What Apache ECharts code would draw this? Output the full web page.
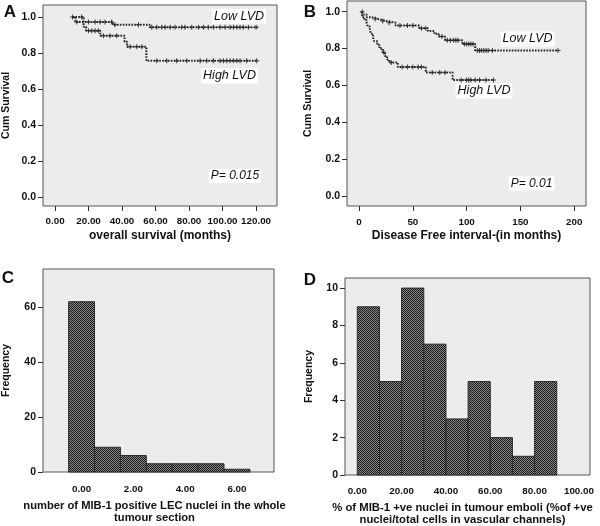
<!DOCTYPE html>
<html>
<head>
<meta charset="utf-8">
<script src="https://cdn.jsdelivr.net/npm/echarts@6/dist/echarts.min.js"></script>
<style>
  html, body { margin: 0; padding: 0; background: #ffffff; }
  #chart { width: 600px; height: 526px; }
</style>
</head>
<body>
<div id="chart"></div>
<script>
// A: overall survival, [months, survival after step]
var osLowSteps = [[10.4, 1.0], [12, 0.972], [34.5, 0.957], [56.5, 0.943], [121, 0.943]];
var osHighSteps = [[10.4, 1.0], [17, 0.946], [18.5, 0.924], [27, 0.896], [41.5, 0.863], [43, 0.835], [54.5, 0.757], [121, 0.757]];
var osLowCensor = [13, 19.9, 23.9, 26.9, 29.8, 33.8, 35.8, 49.8, 57.7, 60.7, 63.7, 65.7, 68.7, 71.6, 75.6, 77.6, 81.6, 85.6, 88.6, 91.5, 94.5, 98.5, 101.5, 104.5, 106.5, 108.5, 110.4, 112.4, 115.4, 120];
var osHighCensor = [10.4, 15.9, 19.9, 21.9, 23.9, 25.9, 28.8, 32.8, 36.8, 44.8, 48.8, 51.8, 60.7, 66.7, 72.6, 78.6, 86.6, 90.5, 94.5, 98.5, 100.5, 102.5, 104.5, 106.5, 108.5, 110.4, 114.4, 120.4];

// B: disease free interval
var dfLowSteps = [[2.5, 1.0], [4, 0.985], [7, 0.97], [12, 0.96], [18, 0.95], [25, 0.94], [34, 0.925], [56, 0.91], [64, 0.895], [70, 0.88], [74, 0.865], [80, 0.845], [96, 0.825], [108, 0.79], [185, 0.79]];
var dfHighSteps = [[2.5, 1.0], [3, 0.97], [5, 0.955], [7, 0.94], [8, 0.92], [10, 0.9], [11, 0.88], [13, 0.86], [14, 0.84], [17, 0.82], [19, 0.80], [22, 0.78], [24, 0.76], [26, 0.74], [28, 0.725], [36, 0.70], [62, 0.67], [87, 0.63], [125, 0.63]];
var dfLowCensor = [3, 15, 22, 28, 38, 45, 50, 58, 62, 77, 82, 85, 88, 90, 92, 98, 100, 102, 104, 106, 110, 112, 114, 116, 118, 120, 124, 185];
var dfHighCensor = [23, 30, 40, 45, 50, 55, 58, 68, 75, 80, 95, 100, 102, 104, 108, 112, 118, 125];

// C: histogram [bin start, bin end, frequency]
var lecBins = [[-0.5, 0.5, 62], [0.5, 1.5, 9], [1.5, 2.5, 6], [2.5, 3.5, 3], [3.5, 4.5, 3], [4.5, 5.5, 3], [5.5, 6.5, 1]];
// D: histogram
var emboliBins = [[0, 10, 9], [10, 20, 5], [20, 30, 10], [30, 40, 7], [40, 50, 3], [50, 60, 5], [60, 70, 2], [70, 80, 1], [80, 90, 5]];

var survTicks = [0, 0.2, 0.4, 0.6, 0.8, 1.0];
var osTicks = [0, 20, 40, 60, 80, 100, 120];
var dfTicks = [0, 50, 100, 150, 200];
var lecXTicks = [0, 2, 4, 6];
var lecYTicks = [0, 20, 40, 60];
var emboliXTicks = [0, 20, 40, 60, 80, 100];
var emboliYTicks = [0, 2, 4, 6, 8, 10];

function survAt(steps, t) {
  var s = steps[0][1];
  for (var i = 0; i < steps.length; i++) {
    if (steps[i][0] <= t) s = steps[i][1];
  }
  return s;
}
function censorPoints(steps, times) {
  return times.map(function (t) { return [t, survAt(steps, t)]; });
}

// checkered fill like the SPSS bars
var pat = document.createElement('canvas');
pat.width = 2; pat.height = 2;
var pctx = pat.getContext('2d');
pctx.fillStyle = '#8c8c8c'; pctx.fillRect(0, 0, 2, 2);
pctx.fillStyle = '#151515'; pctx.fillRect(0, 0, 1, 1); pctx.fillRect(1, 1, 1, 1);

var FONT = '"Liberation Sans", Arial, sans-serif';
var plusSym = 'path://M4,0H6V4H10V6H6V10H4V6H0V4H4Z';

function gridCfg(l, t, w, h) {
  return {
    left: l, top: t, width: w, height: h, show: true,
    backgroundColor: '#ececec', borderColor: '#555', borderWidth: 1,
    containLabel: false, outerBoundsMode: 'none'
  };
}
function xAx(idx, min, max, ticks, fmt, name, showTick, margin, nameGap, nameSize, namePad) {
  return {
    type: 'value', gridIndex: idx, min: min, max: max,
    name: name, nameLocation: 'middle', nameGap: nameGap,
    nameTextStyle: { fontFamily: FONT, fontWeight: 'bold', fontSize: nameSize, color: '#111', lineHeight: 12, padding: namePad || 0 },
    axisLine: { show: false, onZero: false },
    axisTick: { show: showTick, length: 5, customValues: ticks, lineStyle: { color: '#333' } },
    axisLabel: { customValues: ticks, formatter: fmt, margin: margin, fontFamily: FONT, fontWeight: 'bold', fontSize: 9.8, color: '#111' },
    splitLine: { show: false }
  };
}
function yAx(idx, min, max, ticks, fmt, name, nameGap) {
  return {
    type: 'value', gridIndex: idx, min: min, max: max,
    name: name, nameLocation: 'middle', nameGap: nameGap,
    nameTextStyle: { fontFamily: FONT, fontWeight: 'bold', fontSize: 10.5, color: '#111' },
    axisLine: { show: false, onZero: false },
    axisTick: { show: true, length: 5, customValues: ticks, lineStyle: { color: '#333' } },
    axisLabel: { customValues: ticks, formatter: fmt, margin: 7, fontFamily: FONT, fontWeight: 'bold', fontSize: 10.5, color: '#111' },
    splitLine: { show: false }
  };
}
function kmLine(idx, steps) {
  return {
    type: 'line', xAxisIndex: idx, yAxisIndex: idx, step: 'end', data: steps,
    showSymbol: false, silent: true,
    lineStyle: { color: '#222', width: 2, type: [1.6, 1.3] }
  };
}
function kmCensor(idx, steps, times) {
  return {
    type: 'scatter', xAxisIndex: idx, yAxisIndex: idx, data: censorPoints(steps, times),
    symbol: plusSym, symbolSize: [5, 5], silent: true,
    itemStyle: { color: '#111' }
  };
}
function histo(idx, bins) {
  return {
    type: 'custom', xAxisIndex: idx, yAxisIndex: idx, data: bins,
    encode: { x: [0, 1], y: 2 }, silent: true,
    renderItem: function (params, api) {
      var p0 = api.coord([api.value(0), api.value(2)]);
      var p1 = api.coord([api.value(1), 0]);
      return {
        type: 'rect',
        shape: { x: p0[0], y: p0[1], width: p1[0] - p0[0], height: p1[1] - p0[1] },
        style: { fill: { image: pat, repetition: 'repeat' }, stroke: '#2a2a2a', lineWidth: 1 }
      };
    }
  };
}
function note(x, y, text, size, italic) {
  return {
    type: 'text', x: x, y: y,
    style: {
      text: text, fontFamily: FONT, fontSize: size, fontStyle: italic ? 'italic' : 'normal',
      fontWeight: italic ? 'normal' : 'bold', fill: '#111',
      align: 'center', verticalAlign: 'middle',
      backgroundColor: italic ? '#ffffff' : null, padding: italic ? [1, 2] : 0
    }
  };
}

var f2 = function (v) { return v.toFixed(2); };
var f1 = function (v) { return v.toFixed(1); };
var f0 = function (v) { return String(v); };

var chart = echarts.init(document.getElementById('chart'));
var option = {
  animation: false,
  backgroundColor: '#ffffff',
  grid: [
    gridCfg(43, 5, 234, 201),
    gridCfg(347, 1, 239, 205),
    gridCfg(43, 269, 231, 203),
    gridCfg(345, 278, 245, 197)
  ],
  xAxis: [
    xAx(0, -7.2, 132.5, osTicks, f2, 'overall survival (months)', true, 10, 24, 12),
    xAx(1, -11.2, 211, dfTicks, f0, 'Disease Free interval-(in months)', true, 11, 24, 12),
    xAx(2, -1.49, 7.43, lecXTicks, f2, 'number of MIB-1 positive LEC nuclei in the whole\ntumour section', false, 12, 28, 11.2, [0, 8, 0, 0]),
    xAx(3, -5.55, 105, emboliXTicks, f2, '% of MIB-1 +ve nuclei in tumour emboli (%of +ve\nnuclei/total cells in vascular channels)', false, 11, 27, 11.3, [0, 10, 0, 0])
  ],
  yAxis: [
    yAx(0, -0.05, 1.0667, survTicks, f1, 'Cum Survival', 31),
    yAx(1, -0.054, 1.058, survTicks, f1, 'Cum Survival', 33),
    yAx(2, 0, 73.9, lecYTicks, f0, 'Frequency', 31),
    yAx(3, 0, 10.54, emboliYTicks, f0, 'Frequency', 30)
  ],
  series: [
    kmLine(0, osLowSteps), kmLine(0, osHighSteps),
    kmCensor(0, osLowSteps, osLowCensor), kmCensor(0, osHighSteps, osHighCensor),
    kmLine(1, dfLowSteps), kmLine(1, dfHighSteps),
    kmCensor(1, dfLowSteps, dfLowCensor), kmCensor(1, dfHighSteps, dfHighCensor),
    histo(2, lecBins),
    histo(3, emboliBins)
  ],
  graphic: [
    note(10, 12, 'A', 17, false),
    note(310, 12, 'B', 17, false),
    note(8, 278, 'C', 17, false),
    note(310, 280, 'D', 17, false),
    note(239, 16.5, 'Low LVD', 12.5, true),
    note(229.5, 76, 'High LVD', 12.5, true),
    note(235, 176, 'P= 0.015', 12, true),
    note(527.5, 39, 'Low LVD', 12.5, true),
    note(484, 91, 'High LVD', 12.5, true),
    note(531.5, 183.5, 'P= 0.01', 12, true)
  ]
};
chart.setOption(option);
</script>
</body>
</html>
